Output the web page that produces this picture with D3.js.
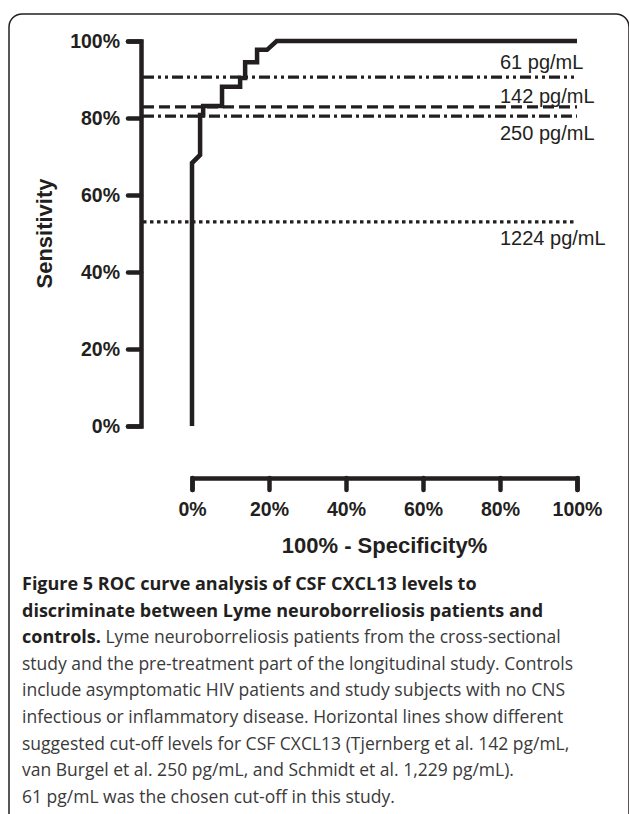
<!DOCTYPE html>
<html>
<head>
<meta charset="utf-8">
<script src="https://cdn.jsdelivr.net/npm/d3@7"></script>
<style>
  body { margin: 0; background: #fff; }
  svg { display: block; }
  .axis text { font-family: "Liberation Sans", Arial, sans-serif; font-weight: bold; fill: #231f20; }
  .caption { font-family: "Open Sans", sans-serif; fill: #231f20; }
</style>
</head>
<body>
<svg id="chart" width="629" height="814"></svg>
<script>
// ROC curve points (100% - specificity, sensitivity)
var fprValues = [0, 0, 2.1, 2.1, 2.9, 2.9, 7.8, 7.8, 12.5, 12.5, 13.8, 13.8, 16.9, 16.9, 19.5, 22, 100];
var tprValues = [0, 68.3, 70.4, 80.8, 80.8, 83.1, 83.1, 88.1, 88.1, 90.4, 90.4, 94.5, 94.5, 97.7, 97.7, 100, 100];

// Cut-off levels
var cutoffLabels = ['61 pg/mL', '142 pg/mL', '250 pg/mL', '1224 pg/mL'];
var cutoffSens = [90.6, 82.9, 80.5, 53];

// Axis ticks
var yTicks = [0, 20, 40, 60, 80, 100];
var xTicks = [0, 20, 40, 60, 80, 100];

// Caption
var captionLines = [
    [['Figure 5 ', 700], ['ROC curve analysis of CSF CXCL13 levels to', 700]],
    [['discriminate between Lyme neuroborreliosis patients and', 700]],
    [['controls.', 700], [' Lyme neuroborreliosis patients from the cross-sectional', 400]],
    [['study and the pre-treatment part of the longitudinal study. Controls', 400]],
    [['include asymptomatic HIV patients and study subjects with no CNS', 400]],
    [['infectious or inflammatory disease. Horizontal lines show different', 400]],
    [['suggested cut-off levels for CSF CXCL13 (Tjernberg et al. 142 pg/mL,', 400]],
    [['van Burgel et al. 250 pg/mL, and Schmidt et al. 1,229 pg/mL).', 400]],
    [['61 pg/mL was the chosen cut-off in this study.', 400]]
];

// Line styles for each cut-off (dash pattern, label above / below)
var cutoffDash = ['11,4,3,4,3,4', '11,5', '11,4,3,4', '3.5,3.5'];
var cutoffLabelDy = [-15, -11, 17, 16];

var ink = '#231f20';
var svg = d3.select('#chart');

// Frame round figure
svg.append('rect')
    .attr('x', 9).attr('y', 14)
    .attr('width', 620).attr('height', 830)
    .attr('rx', 13).attr('ry', 13)
    .attr('fill', 'none')
    .attr('stroke', ink)
    .attr('stroke-width', 1.5);

var yAxisX = 141;
var xAxisY = 478;

var x = d3.scaleLinear().domain([0, 100]).range([192, 577]);
var y = d3.scaleLinear().domain([0, 100]).range([426, 41]);

// Y axis
svg.append('g')
    .attr('class', 'axis')
    .attr('transform', 'translate(' + yAxisX + ',0)')
    .call(d3.axisLeft(y).tickValues(yTicks).tickSize(13).tickSizeOuter(13).tickPadding(8)
        .tickFormat(function(d) { return d + '%'; }));

// X axis
svg.append('g')
    .attr('class', 'axis')
    .attr('transform', 'translate(0,' + xAxisY + ')')
    .call(d3.axisBottom(x).tickValues(xTicks).tickSize(12).tickSizeOuter(12).tickPadding(12)
        .tickFormat(function(d) { return d + '%'; }));

svg.selectAll('.axis path, .axis line')
    .attr('stroke', ink)
    .attr('stroke-width', 4.5)
    .attr('stroke-linecap', 'round');
svg.selectAll('.axis text').attr('font-size', 19.5);

// Axis titles
svg.append('text')
    .attr('transform', 'translate(52,' + y(50) + ') rotate(-90)')
    .attr('text-anchor', 'middle')
    .style('font-family', '"Liberation Sans", Arial, sans-serif')
    .style('font-weight', 'bold')
    .style('font-size', '22px')
    .attr('fill', ink)
    .text('Sensitivity');

svg.append('text')
    .attr('x', (x(0) + x(100)) / 2)
    .attr('y', 553)
    .attr('text-anchor', 'middle')
    .style('font-family', '"Liberation Sans", Arial, sans-serif')
    .style('font-weight', 'bold')
    .style('font-size', '22px')
    .attr('fill', ink)
    .text('100% - Specificity%');

// Cut-off lines
var cut = svg.append('g').selectAll('g')
    .data(cutoffSens)
    .enter().append('g');

cut.append('line')
    .attr('x1', yAxisX + 2)
    .attr('x2', x(100))
    .attr('y1', function(d) { return y(d); })
    .attr('y2', function(d) { return y(d); })
    .attr('stroke', ink)
    .attr('stroke-width', 3.2)
    .attr('stroke-dasharray', function(d, i) { return cutoffDash[i]; });

cut.append('text')
    .attr('x', 500)
    .attr('y', function(d, i) { return y(d) + cutoffLabelDy[i]; })
    .attr('dy', '0.35em')
    .style('font-family', '"Liberation Sans", Arial, sans-serif')
    .style('font-size', '20px')
    .attr('fill', ink)
    .text(function(d, i) { return cutoffLabels[i]; });

// ROC curve
var rocPoints = fprValues.map(function(d, i) { return [d, tprValues[i]]; });
var line = d3.line()
    .x(function(d) { return x(d[0]); })
    .y(function(d) { return y(d[1]); });

svg.append('path')
    .datum(rocPoints)
    .attr('d', line)
    .attr('fill', 'none')
    .attr('stroke', ink)
    .attr('stroke-width', 4.5)
    .attr('stroke-linejoin', 'miter');

// Caption text
var caption = svg.append('g').attr('class', 'caption');
captionLines.forEach(function(parts, i) {
    var t = caption.append('text')
        .attr('x', 22)
        .attr('y', 590 + i * 26.6);
    parts.forEach(function(p) {
        t.append('tspan')
            .style('font-weight', p[1])
            .style('font-size', p[1] >= 600 ? '18px' : '17.5px')
            .attr('fill', p[1] >= 600 ? ink : '#3a3a3a')
            .text(p[0]);
    });
});
</script>
</body>
</html>
